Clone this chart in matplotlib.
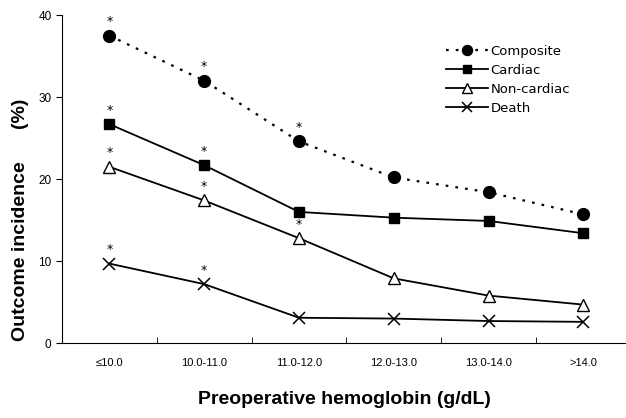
import numpy as np
import matplotlib
matplotlib.use('Agg')
import matplotlib.pyplot as plt

categories = ['\u226410.0', '10.0-11.0', '11.0-12.0', '12.0-13.0', '13.0-14.0', '>14.0']
composite = [37.5, 32.0, 24.6, 20.2, 18.4, 15.7]
cardiac = [26.7, 21.7, 16.0, 15.3, 14.9, 13.4]
noncardiac = [21.5, 17.4, 12.8, 7.9, 5.8, 4.7]
death = [9.7, 7.2, 3.1, 3.0, 2.7, 2.6]

# which points carry a significance star
star_composite = [0, 1, 2]
star_cardiac = [0, 1]
star_noncardiac = [0, 1, 2]
star_death = [0, 1]

arial = 'Liberation Sans'

fig = plt.figure(figsize=(6.26, 4.18), dpi=100)
ax = fig.add_axes([0.099, 0.179, 0.901, 0.785])

x = np.arange(len(categories))
ax.plot(x, composite, linestyle=(0, (1.2, 3.2)), linewidth=1.6, color='black',
        marker='o', markersize=8.5, label='Composite')
ax.plot(x, cardiac, linestyle='-', linewidth=1.3, color='black',
        marker='s', markersize=7, label='Cardiac')
ax.plot(x, noncardiac, linestyle='-', linewidth=1.3, color='black',
        marker='^', markersize=8, markerfacecolor='white', label='Non-cardiac')
ax.plot(x, death, linestyle='-', linewidth=1.3, color='black',
        marker='x', markersize=9, markeredgewidth=1.1, label='Death')

for series, idx in [(composite, star_composite), (cardiac, star_cardiac),
                    (noncardiac, star_noncardiac), (death, star_death)]:
    for i in idx:
        ax.text(x[i], series[i] + 0.9, '*', ha='center', va='bottom', fontsize=9)

ax.set_xlim(-0.5, 5.45)
ax.set_ylim(0, 40)
ax.set_yticks([0, 10, 20, 30, 40])
ax.tick_params(axis='y', direction='out', length=4, labelsize=8.5)
ax.set_xticks(x)
ax.set_xticklabels(categories, fontsize=8, family=arial)
for lab in ax.get_yticklabels():
    lab.set_family(arial)
ax.tick_params(axis='x', length=0, pad=11)
ax.set_xticks(np.arange(0.5, 5.5, 1.0), minor=True)
ax.tick_params(axis='x', which='minor', direction='in', length=4)

for s in ['top', 'right']:
    ax.spines[s].set_visible(False)

ax.set_ylabel('Outcome incidence      (%)', fontsize=14, fontweight='bold', family=arial)
ax.yaxis.set_label_coords(-0.058, 0.375)
ax.set_xlabel('Preoperative hemoglobin (g/dL)', fontsize=14, fontweight='bold',
              family=arial, labelpad=16)

ax.legend(loc='upper left', bbox_to_anchor=(0.66, 0.945), frameon=False,
          fontsize=9.5, handlelength=3.2, handletextpad=0.15, labelspacing=0.45,
          markerscale=0.85)

plt.savefig('out.png', dpi=100)
